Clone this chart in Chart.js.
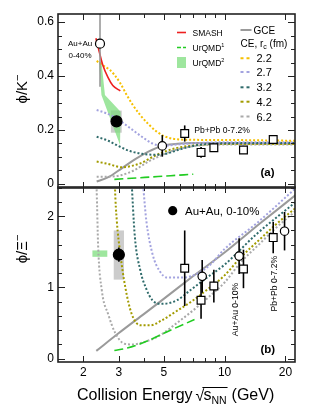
<!DOCTYPE html>
<html><head><meta charset="utf-8">
<script src="https://cdn.jsdelivr.net/npm/chart.js@4.4.0/dist/chart.umd.min.js"></script>
<style>
html,body{margin:0;padding:0;background:#fff;}
#wrap{position:relative;width:316px;height:418px;overflow:hidden;}
canvas{position:absolute;left:0;top:0;}
</style></head><body>
<div id="wrap"><canvas id="cBot" width="316" height="418"></canvas><canvas id="cTop" width="316" height="418"></canvas></div>
<script>
// ================= DATA =================
const energyTickLabels = [2, 3, 5, 10, 20];
const energyMinorTicks = [2, 3, 4, 5, 6, 7, 8, 9, 10, 20];
const kTickValues = [0, 0.2, 0.4, 0.6];
const xiTickValues = [0, 1, 2];
const ceRadiusLabels = ['2.2', '2.7', '3.2', '4.2', '6.2'];

// ---- panel (a): phi/K- model curves ----
const ce22K_x = [2.33, 2.5, 2.71, 2.85, 3.05, 3.28, 3.5, 3.83, 4.2, 4.6, 5.0, 5.5, 6.5, 10, 23];
const ce22K_y = [0.456, 0.44, 0.422, 0.405, 0.373, 0.33, 0.295, 0.255, 0.222, 0.195, 0.178, 0.168, 0.164, 0.163, 0.160];
const ce27K_x = [2.33, 2.56, 2.87, 3.34, 3.9, 4.37, 4.9, 6, 8, 12, 23];
const ce27K_y = [0.274, 0.264, 0.247, 0.212, 0.175, 0.151, 0.141, 0.147, 0.153, 0.155, 0.155];
const ce32K_x = [2.33, 2.66, 3.0, 3.4, 3.9, 4.5, 5.0, 6, 7.5, 10, 23];
const ce32K_y = [0.175, 0.16, 0.14, 0.122, 0.112, 0.108, 0.11, 0.128, 0.145, 0.151, 0.152];
const ce42K_x = [2.33, 2.66, 3.1, 3.48, 3.9, 4.37, 4.9, 5.7, 7, 10, 23];
const ce42K_y = [0.083, 0.074, 0.062, 0.067, 0.079, 0.099, 0.116, 0.132, 0.143, 0.148, 0.148];
const ce62K_x = [2.33, 2.66, 3.1, 3.6, 4.2, 4.9, 5.7, 7, 10, 23];
const ce62K_y = [0.027, 0.027, 0.033, 0.052, 0.083, 0.107, 0.126, 0.14, 0.146, 0.146];
const gceK_x = [2.33, 2.66, 3.1, 3.6, 4.2, 4.9, 5.7, 7, 10, 23];
const gceK_y = [0.009, 0.025, 0.058, 0.091, 0.12, 0.141, 0.148, 0.152, 0.152, 0.15];
const smashK_x = [2.31, 2.4, 2.5, 2.65, 2.8, 3.05];
const smashK_y = [0.54, 0.49, 0.44, 0.395, 0.365, 0.345];
const urqmd1K_x = [2.85, 7.0];
const urqmd1K_y = [0.017, 0.036];
const urqmd2K_x = [2.39, 2.46, 2.56, 3.06, 3.04, 2.46];
const urqmd2K_y = [0.453, 0.453, 0.33, 0.268, 0.144, 0.33];
// ---- panel (a): measurements ----
const starK_x = [2.92], starK_y = [0.232], starK_err = [0.01];
const starK_sysXlo = [2.74], starK_sysXhi = [3.10], starK_sysLo = [0.19], starK_sysHi = [0.272];
const hadesK_x = [2.42], hadesK_y = [0.52], hadesK_err = [0.16];
const agsK_x = [4.92], agsK_y = [0.141], agsK_err = [0.04];
const na49K_x = [6.35, 7.65, 8.85, 12.4, 17.4];
const na49K_y = [0.187, 0.117, 0.134, 0.126, 0.165];
const na49K_err = [0.03, 0.02, 0.008, 0.008, 0.008];

// ---- panel (b): phi/Xi- model curves ----
const ce27X_x = [3.9, 3.96, 4.1, 4.4, 4.8, 5.2, 6.25, 7.3, 8.5, 10, 14.4, 23];
const ce27X_y = [2.6, 2.41, 1.94, 1.47, 1.22, 1.14, 1.14, 1.19, 1.32, 1.54, 1.9, 2.42];
const ce32X_x = [3.45, 3.6, 3.83, 4.1, 4.4, 4.9, 5.8, 6.76, 8.1, 10, 14.4, 23];
const ce32X_y = [2.6, 1.71, 1.24, 0.98, 0.82, 0.77, 0.82, 0.96, 1.13, 1.32, 1.75, 2.22];
const ce42X_x = [2.86, 2.87, 2.93, 3.05, 3.23, 3.47, 3.83, 4.3, 4.9, 5.8, 7, 8.3, 10, 12, 15, 17.7, 23];
const ce42X_y = [2.6, 2.41, 1.94, 1.47, 1.0, 0.63, 0.47, 0.47, 0.54, 0.67, 0.82, 0.98, 1.17, 1.42, 1.68, 1.87, 2.14];
const ce62X_x = [2.31, 2.33, 2.37, 2.47, 2.66, 2.88, 3.2, 3.5, 3.96, 4.8, 5.8, 7, 8.3, 10, 12, 15, 17.7, 23];
const ce62X_y = [2.6, 2.36, 1.57, 0.96, 0.62, 0.36, 0.21, 0.2, 0.23, 0.33, 0.5, 0.68, 0.86, 1.07, 1.35, 1.62, 1.82, 2.1];
const gceX_x = [2.32, 3, 4, 5, 7, 10, 15, 23];
const gceX_y = [0.11, 0.36, 0.63, 0.84, 1.16, 1.49, 1.9, 2.32];
const urqmd1X_x = [2.85, 3.3, 4, 5.4, 7.1];
const urqmd1X_y = [0.115, 0.15, 0.23, 0.40, 0.55];
const urqmd2X_xlo = [2.22], urqmd2X_xhi = [2.63], urqmd2X_lo = [1.43], urqmd2X_hi = [1.52];
// ---- panel (b): measurements ----
const starX_x = [3.0], starX_y = [1.46], starX_err = [0.1];
const starX_sysXlo = [2.83], starX_sysXhi = [3.18], starX_sysLo = [1.11], starX_sysHi = [1.80];
const auauX_x = [7.75, 11.8, 19.8], auauX_y = [1.156, 1.44, 1.79], auauX_err = [0.23, 0.25, 0.27];
const na49X_x = [6.35, 7.65, 8.85, 12.4, 17.4];
const na49X_y = [1.27, 0.82, 1.02, 1.26, 1.70];
const na49X_err = [0.53, 0.26, 0.23, 0.27, 0.22];

// ================= STYLE =================
const FONT = '"Liberation Sans", Arial, Helvetica, sans-serif';
const COL = {
  ce22: '#f6c000', ce27: '#a3a3df', ce32: '#2f6b6b', ce42: '#a29b00', ce62: '#a9a9a9',
  gce: '#9a9a9a', smash: '#ee2020', urqmd1: '#22cc22', urqmd2: 'rgba(125,222,125,0.75)',
  sys: 'rgba(170,170,170,0.6)'
};
const DOT = [2, 2];

function pts(xs, ys) { return xs.map((x, i) => ({ x: x, y: ys[i] })); }
function curve(xs, ys, color, dash, width) {
  return { data: pts(xs, ys), borderColor: color, borderWidth: width, borderDash: dash,
    pointRadius: 0, fill: false, cubicInterpolationMode: 'monotone', order: 5 };
}
function markers(xs, ys, style, r, bg, err, errColor) {
  return { data: pts(xs, ys), showLine: false, pointStyle: style, pointRadius: r,
    pointBackgroundColor: bg, pointBorderColor: '#000', pointBorderWidth: 1.2,
    errY: err, errColor: errColor, order: 0 };
}

// ================= PLUGIN =================
function rotText(ctx, parts, cx, cy) {
  ctx.save(); ctx.translate(cx, cy); ctx.rotate(-Math.PI / 2);
  ctx.textBaseline = 'alphabetic'; ctx.textAlign = 'left';
  let total = 0;
  parts.forEach(p => { ctx.font = p.font; p.w = ctx.measureText(p.t).width; total += p.w; });
  let x = -total / 2;
  parts.forEach(p => { ctx.font = p.font; ctx.fillText(p.t, x, p.dy || 0); x += p.w; });
  ctx.restore();
}
function seqText(ctx, parts, x0, y0) {
  ctx.textBaseline = 'alphabetic'; ctx.textAlign = 'left';
  let x = x0;
  parts.forEach(p => { ctx.font = p.font; ctx.fillText(p.t, x, y0 + (p.dy || 0)); x += ctx.measureText(p.t).width; });
  return x;
}

function decor(cfg) {
  return {
    id: 'decor' + cfg.name,
    beforeDatasetsDraw(chart) {
      const { ctx, chartArea: a, scales: { x, y } } = chart;
      ctx.save(); ctx.beginPath(); ctx.rect(a.left, a.top, a.right - a.left, a.bottom - a.top); ctx.clip();
      cfg.boxes.forEach(b => {
        for (let i = 0; i < b.xlo.length; i++) {
          const x1 = x.getPixelForValue(b.xlo[i]), x2 = x.getPixelForValue(b.xhi[i]);
          const y1 = y.getPixelForValue(b.hi[i]), y2 = y.getPixelForValue(b.lo[i]);
          ctx.fillStyle = b.color; ctx.fillRect(x1, y1, x2 - x1, y2 - y1);
        }
      });
      ctx.restore();
    },
    beforeDatasetDraw(chart, args) {
      const ds = chart.data.datasets[args.index];
      if (!ds.errY) return;
      const { ctx, chartArea: a, scales: { x, y } } = chart;
      ctx.save(); ctx.beginPath(); ctx.rect(a.left, a.top, a.right - a.left, a.bottom - a.top); ctx.clip();
      ctx.strokeStyle = ds.errColor; ctx.lineWidth = 1.6; ctx.setLineDash([]);
      ds.data.forEach((p, i) => {
        const e = ds.errY[i]; const px = x.getPixelForValue(p.x);
        ctx.beginPath(); ctx.moveTo(px, y.getPixelForValue(p.y - e)); ctx.lineTo(px, y.getPixelForValue(p.y + e)); ctx.stroke();
      });
      ctx.restore();
    },
    afterDraw(chart) {
      const { ctx, chartArea: a, scales: { x, y } } = chart;
      ctx.save();
      ctx.strokeStyle = '#222'; ctx.lineWidth = 1; ctx.setLineDash([]);
      energyMinorTicks.forEach(v => {
        const px = Math.round(x.getPixelForValue(v)) + 0.5;
        const L = energyTickLabels.includes(v) ? 6 : 4;
        ctx.beginPath(); ctx.moveTo(px, a.bottom); ctx.lineTo(px, a.bottom - L);
        ctx.moveTo(px, a.top); ctx.lineTo(px, a.top + L); ctx.stroke();
      });
      const n = Math.round(y.max / cfg.yMinor);
      for (let k = 0; k <= n; k++) {
        const v = k * cfg.yMinor;
        if (v > y.max) break;
        const py = Math.round(y.getPixelForValue(v)) + 0.5;
        const major = Math.abs(v / cfg.yMajor - Math.round(v / cfg.yMajor)) < 1e-6;
        const L = major ? 7 : 4;
        ctx.beginPath(); ctx.moveTo(a.left, py); ctx.lineTo(a.left + L, py);
        ctx.moveTo(a.right, py); ctx.lineTo(a.right - L, py); ctx.stroke();
      }
      ctx.strokeStyle = '#222'; ctx.lineWidth = 1.6;
      ctx.strokeRect(a.left, a.top, a.right - a.left, a.bottom - a.top);
      ctx.fillStyle = '#000';
      cfg.extra(ctx, chart);
      ctx.restore();
    }
  };
}

function commonY(min, max, ticks) {
  return {
    type: 'linear', min: min, max: max,
    grid: { display: false, drawTicks: false }, border: { display: false },
    ticks: { font: { family: FONT, size: 12 }, color: '#000', padding: 4, callback: v => String(v) },
    afterBuildTicks: s => { s.ticks = ticks.map(v => ({ value: v })); },
    afterFit: s => { s.width = 58; }
  };
}

// ================= TOP PANEL (a) =================
new Chart(document.getElementById('cTop'), {
  type: 'line',
  data: { datasets: [
    markers(starK_x, starK_y, 'circle', 5.5, '#000', starK_err, '#000'),
    markers(hadesK_x, hadesK_y, 'circle', 4.5, '#fff', hadesK_err, '#999'),
    markers(agsK_x, agsK_y, 'circle', 4.2, '#fff', agsK_err, '#000'),
    markers(na49K_x, na49K_y, 'rect', 5.5, '#fff', na49K_err, '#000'),
    curve(smashK_x, smashK_y, COL.smash, [], 1.6),
    curve(urqmd1K_x, urqmd1K_y, COL.urqmd1, [9, 4], 1.6),
    curve(ce22K_x, ce22K_y, COL.ce22, DOT, 2),
    curve(ce27K_x, ce27K_y, COL.ce27, DOT, 2),
    curve(ce32K_x, ce32K_y, COL.ce32, DOT, 2),
    curve(ce42K_x, ce42K_y, COL.ce42, DOT, 2),
    curve(ce62K_x, ce62K_y, COL.ce62, DOT, 2),
    curve(gceK_x, gceK_y, COL.gce, [], 2),
    { data: pts(urqmd2K_x, urqmd2K_y), borderWidth: 0, borderColor: COL.urqmd2, backgroundColor: COL.urqmd2,
      fill: 'shape', pointRadius: 0, tension: 0, order: 10 }
  ] },
  options: {
    responsive: false, animation: false,
    layout: { padding: { left: 0, right: 21, top: 14, bottom: 230 } },
    plugins: { legend: { display: false }, tooltip: { enabled: false } },
    scales: {
      x: { type: 'logarithmic', min: 1.5, max: 22.3, display: false },
      y: commonY(-0.015, 0.63, kTickValues)
    }
  },
  plugins: [decor({
    name: 'A', yMinor: 0.05, yMajor: 0.2,
    boxes: [{ xlo: starK_sysXlo, xhi: starK_sysXhi, lo: starK_sysLo, hi: starK_sysHi, color: COL.sys }],
    extra(ctx) {
      rotText(ctx, [{ t: 'ϕ/K', font: '15px ' + FONT, dy: 5 }, { t: '−', font: '11px ' + FONT, dy: -1 }], 22, 89);
      ctx.lineWidth = 1.6;
      ctx.strokeStyle = COL.smash; ctx.setLineDash([]);
      ctx.beginPath(); ctx.moveTo(177, 32.5); ctx.lineTo(186, 32.5); ctx.stroke();
      ctx.strokeStyle = COL.urqmd1; ctx.setLineDash([4, 2]);
      ctx.beginPath(); ctx.moveTo(177, 47.5); ctx.lineTo(186, 47.5); ctx.stroke();
      ctx.setLineDash([]);
      ctx.fillStyle = COL.urqmd2; ctx.fillRect(177, 57, 9, 11);
      ctx.fillStyle = '#000';
      seqText(ctx, [{ t: 'SMASH', font: '8.5px ' + FONT }], 192.5, 35.5);
      seqText(ctx, [{ t: 'UrQMD', font: '8.5px ' + FONT }, { t: '1', font: '5.5px ' + FONT, dy: -3.5 }], 192.5, 50.5);
      seqText(ctx, [{ t: 'UrQMD', font: '8.5px ' + FONT }, { t: '2', font: '5.5px ' + FONT, dy: -3.5 }], 192.5, 65.5);
      ctx.strokeStyle = COL.gce; ctx.lineWidth = 2;
      ctx.beginPath(); ctx.moveTo(240.5, 30); ctx.lineTo(251.5, 30); ctx.stroke();
      seqText(ctx, [{ t: 'GCE', font: '10px ' + FONT }], 253.5, 33.5);
      seqText(ctx, [{ t: 'CE, r', font: '10px ' + FONT }, { t: 'c', font: '7px ' + FONT, dy: 2 }, { t: ' (fm)', font: '10px ' + FONT }], 240.5, 47);
      const cols = [COL.ce22, COL.ce27, COL.ce32, COL.ce42, COL.ce62];
      const ys = [58.3, 72, 87.3, 101.7, 116.5];
      cols.forEach((c, i) => {
        ctx.strokeStyle = c; ctx.lineWidth = 2; ctx.setLineDash([3, 3]);
        ctx.beginPath(); ctx.moveTo(240.5, ys[i]); ctx.lineTo(250, ys[i]); ctx.stroke();
        ctx.setLineDash([]);
        seqText(ctx, [{ t: ceRadiusLabels[i], font: '11px ' + FONT }], 256.5, ys[i] + 4);
      });
      seqText(ctx, [{ t: 'Au+Au', font: '8px ' + FONT }], 68, 46);
      seqText(ctx, [{ t: '0-40%', font: '8px ' + FONT }], 68.5, 57.5);
      seqText(ctx, [{ t: 'Pb+Pb 0-7.2%', font: '8.6px ' + FONT }], 194.3, 133);
      seqText(ctx, [{ t: '(a)', font: 'bold 11.5px ' + FONT }], 260.5, 175.5);
    }
  })]
});

// ================= BOTTOM PANEL (b) =================
new Chart(document.getElementById('cBot'), {
  type: 'line',
  data: { datasets: [
    markers(starX_x, starX_y, 'circle', 5.5, '#000', starX_err, '#000'),
    markers(auauX_x, auauX_y, 'circle', 4.2, '#fff', auauX_err, '#000'),
    markers(na49X_x, na49X_y, 'rect', 5.5, '#fff', na49X_err, '#000'),
    curve(urqmd1X_x, urqmd1X_y, COL.urqmd1, [9, 4], 1.6),
    curve(ce27X_x, ce27X_y, COL.ce27, DOT, 2),
    curve(ce32X_x, ce32X_y, COL.ce32, DOT, 2),
    curve(ce42X_x, ce42X_y, COL.ce42, DOT, 2),
    curve(ce62X_x, ce62X_y, COL.ce62, DOT, 2),
    curve(gceX_x, gceX_y, COL.gce, [], 2)
  ] },
  options: {
    responsive: false, animation: false,
    layout: { padding: { left: 0, right: 21, top: 187, bottom: 36 } },
    plugins: { legend: { display: false }, tooltip: { enabled: false } },
    scales: {
      x: {
        type: 'logarithmic', min: 1.5, max: 22.3,
        grid: { display: false, drawTicks: false }, border: { display: false },
        ticks: { font: { family: FONT, size: 12 }, color: '#000', padding: 3, autoSkip: false, maxRotation: 0,
          callback: v => String(v) },
        afterBuildTicks: s => { s.ticks = energyTickLabels.map(v => ({ value: v })); },
        afterFit: s => { s.height = 20; }
      },
      y: commonY(-0.046, 2.41, xiTickValues)
    }
  },
  plugins: [decor({
    name: 'B', yMinor: 0.2, yMajor: 1,
    boxes: [
      { xlo: starX_sysXlo, xhi: starX_sysXhi, lo: starX_sysLo, hi: starX_sysHi, color: COL.sys },
      { xlo: urqmd2X_xlo, xhi: urqmd2X_xhi, lo: urqmd2X_lo, hi: urqmd2X_hi, color: COL.urqmd2 }
    ],
    extra(ctx) {
      rotText(ctx, [{ t: 'ϕ/Ξ', font: '15px ' + FONT, dy: 5 }, { t: '−', font: '11px ' + FONT, dy: -1 }], 22, 249);
      ctx.beginPath(); ctx.arc(172.7, 210.7, 4.6, 0, Math.PI * 2); ctx.fill();
      seqText(ctx, [{ t: 'Au+Au, 0-10%', font: '11.5px ' + FONT }], 185, 214.8);
      rotText(ctx, [{ t: 'Au+Au 0-10%', font: '8.6px ' + FONT, dy: 3 }], 235, 309.5);
      rotText(ctx, [{ t: 'Pb+Pb 0-7.2%', font: '8.6px ' + FONT, dy: 3 }], 274, 283.7);
      seqText(ctx, [{ t: '(b)', font: 'bold 11.5px ' + FONT }], 260.5, 352.5);
      // x-axis title
      const e1 = seqText(ctx, [{ t: 'Collision Energy', font: '16px ' + FONT }], 77, 400);
      const r0 = e1 + 3;
      const e2 = seqText(ctx, [{ t: '√', font: '16px ' + FONT }], r0, 401);
      const s0 = e2 - 1;
      const xe = seqText(ctx, [{ t: 's', font: '16px ' + FONT }, { t: 'NN', font: '10.5px ' + FONT, dy: 4 }], s0, 400);
      ctx.strokeStyle = '#000'; ctx.lineWidth = 1; ctx.setLineDash([]);
      ctx.beginPath(); ctx.moveTo(s0 - 1, 387.5); ctx.lineTo(xe + 1, 387.5); ctx.stroke();
      seqText(ctx, [{ t: '(GeV)', font: '16px ' + FONT }], xe + 5, 400);
    }
  })]
});
</script>
</body></html>
